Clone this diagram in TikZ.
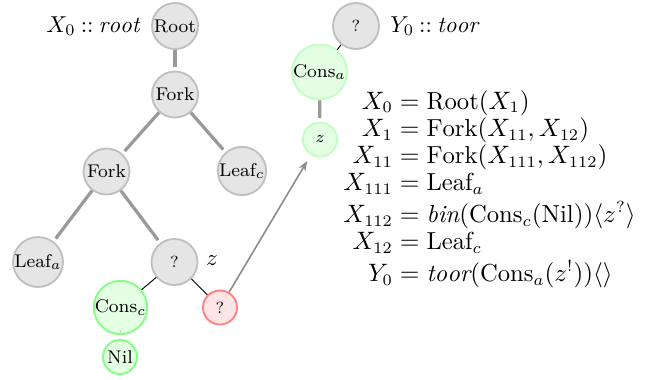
\documentclass[tikz,border=0pt]{standalone}
\usepackage{amsmath}
\usepackage{fontspec}
\usetikzlibrary{arrows.meta}
\begin{document}
\begin{tikzpicture}[x=0.43478pt,y=-0.43478pt,
  base/.style={circle,line width=0.8pt,inner sep=0pt,font=\footnotesize},
  nd/.style={base,draw=black!25,fill=black!10},
  gn/.style={base,draw=green!50,fill=green!10},
  gl/.style={base,draw=green!25,fill=green!10},
  rd/.style={base,draw=red!50,fill=red!10},
  tk/.style={draw=black!40,line width=1.4pt,shorten >=1.5pt},
  tn/.style={draw=black,line width=0.4pt},
  ar/.style={draw=black!45,line width=0.7pt,-{Stealth[length=4.5pt,width=3.2pt]},shorten >=3pt}
]
\useasboundingbox (0,0) rectangle (657,379);
% left tree
\node[nd,minimum size=20pt] (root) at (175,26) {Root};
\node[nd,minimum size=20pt] (fork1) at (175,94.5) {Fork};
\node[nd,minimum size=20pt] (fork2) at (106.5,171.5) {Fork};
\node[nd,minimum size=21pt] (leafc) at (242,171) {Leaf$_c$};
\node[nd,minimum size=21.7pt] (leafa) at (38,262) {Leaf$_a$};
\node[nd,minimum size=20pt,font=\scriptsize] (q) at (174.5,262) {?};
\node[gn,minimum size=22.6pt] (consc) at (120.5,307.5) {Cons$_c$};
\node[gn,minimum size=14.8pt] (nil) at (120,357) {Nil};
\node[rd,minimum size=14.8pt,font=\scriptsize] (red) at (220,307.5) {?};
% right tree
\node[nd,minimum size=20pt,font=\scriptsize] (q2) at (356,26) {?};
\node[gl,minimum size=22.6pt] (consa) at (319.5,72) {Cons$_a$};
\node[gl,minimum size=14.8pt,font=\scriptsize] (zg) at (320,139.5) {$z$};
% labels
\node[anchor=east,inner sep=0pt] (lx0) at (140,26) {$X_0 \mathbin{::} \mathit{root}$};
\node[anchor=west,inner sep=0pt] (ly0) at (390,26) {$Y_0 \mathbin{::} \mathit{toor}$};
\node[inner sep=0pt] (lz) at (212,261) {$z$};
% edges
\draw[tk] (root) -- (fork1);
\draw[tk] (fork1) -- (fork2);
\draw[tk] (fork1) -- (leafc);
\draw[tk] (fork2) -- (leafa);
\draw[tk] (fork2) -- (q);
\draw[tn] (q) -- (consc);
\draw[tn] (q) -- (red);
\draw[draw=black!40,line width=0.4pt,shorten <=2pt,shorten >=3pt] (consc) -- (nil);
\draw[tn] (q2) -- (consa);
\draw[tk] (consa) -- (zg);
\draw[ar] (red) -- (zg);
% equations
\node[anchor=west,inner sep=0pt,font=\fontsize{10.7pt}{11.8pt}\selectfont] (eq) at (343,190) {\setlength{\jot}{0pt}$\begin{aligned}
X_0 &= \mathrm{Root}(X_1)\\
X_1 &= \mathrm{Fork}(X_{11},X_{12})\\
X_{11} &= \mathrm{Fork}(X_{111},X_{112})\\
X_{111} &= \mathrm{Leaf}_a\\
X_{112} &= \mathit{bin}(\mathrm{Cons}_c(\mathrm{Nil}))\langle z^{?}\rangle\\
X_{12} &= \mathrm{Leaf}_c\\
Y_0 &= \mathit{toor}(\mathrm{Cons}_a(z^{!}))\langle\rangle
\end{aligned}$};
\end{tikzpicture}
\end{document}
